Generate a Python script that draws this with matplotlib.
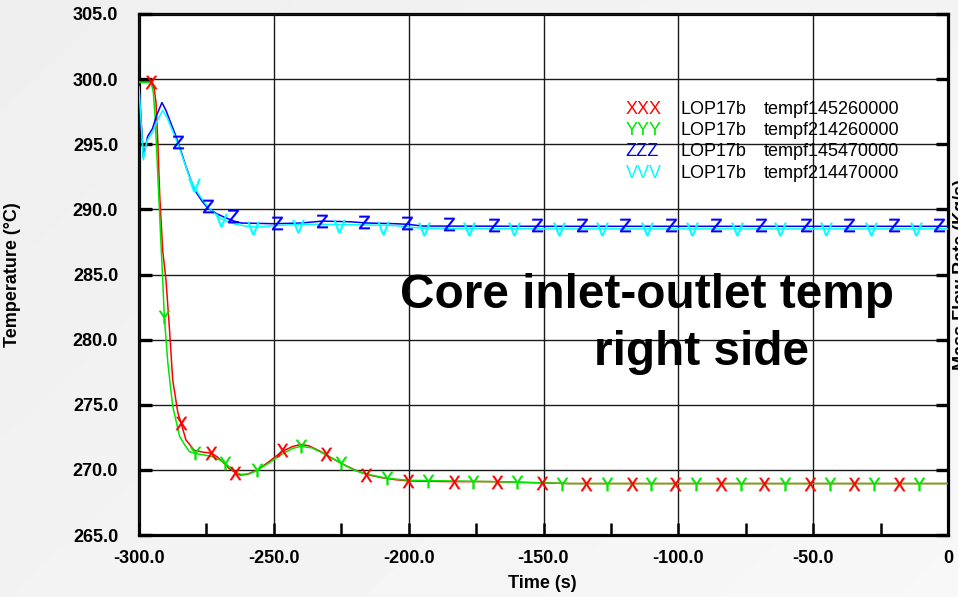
import numpy as np
import matplotlib
matplotlib.use("Agg")
import matplotlib.pyplot as plt
from matplotlib.ticker import MultipleLocator, FormatStrFormatter

plt.rcParams['font.family'] = ['Liberation Sans', 'DejaVu Sans']

# ---------------- data ----------------
red_t = [-300, -295.5, -294.3, -293.7, -293, -292.3, -291.2, -290, -288.7, -287.5, -285.6, -284.4,
         -282.6, -279.5, -276, -273.3, -271, -268.9, -266.5, -264.3, -262.5, -260, -256, -252, -247,
         -243, -240, -237, -233, -230.6, -225, -220, -215.7, -210, -205, -200, -185, -170, -160,
         -150, -140, 0]
red_v = [299.8, 299.8, 299.2, 298.2, 295.0, 291.0, 286.8, 284.6, 280.8, 276.9, 274.4, 273.6,
         272.3, 271.5, 271.35, 271.3, 271.0, 270.6, 270.1, 269.8, 269.6, 269.65, 270.0, 270.6, 271.4,
         271.8, 271.95, 271.85, 271.45, 271.15, 270.5, 270.0, 269.65, 269.4, 269.25, 269.15, 269.1,
         269.1, 269.05, 269.0, 268.95, 268.95]

green_t = [-300, -295.5, -294.7, -294, -293, -292, -291.2, -290.6, -289.3, -287.5, -285, -283,
           -281.3, -279, -276, -272.6, -270, -268, -266, -264, -262, -259, -256.3, -252, -247, -243,
           -240, -236, -231, -225, -220, -215, -208, -200, -185, -170, -160, -150, -140, 0]
green_v = [299.75, 299.75, 299.0, 297.0, 292.5, 288.0, 284.6, 281.7, 278.2, 274.9, 272.6, 271.9,
           271.4, 271.25, 271.15, 271.0, 270.75, 270.5, 270.15, 269.8, 269.65, 269.7, 269.95, 270.5,
           271.2, 271.65, 271.8, 271.7, 271.2, 270.5, 269.95, 269.65, 269.35, 269.2, 269.15, 269.1,
           269.05, 269.0, 268.95, 268.95]

blue_t = [-300, -298.4, -296.8, -295, -293.5, -291.5, -290, -288.7, -287, -285.6, -284, -282.6,
          -280.5, -278.8, -276.5, -274.5, -271.5, -268.9, -266, -264, -262, -250, -240, -232, -222,
          -215, -205, -200, -195, -150, -100, -50, 0]
blue_v = [299.6, 294.0, 295.6, 296.2, 297.2, 298.2, 297.6, 296.9, 296.0, 295.2, 294.2, 293.3,
          292.1, 291.3, 290.6, 290.1, 289.7, 289.45, 289.2, 289.05, 288.95, 288.9, 288.95, 289.1,
          289.05, 288.95, 288.9, 288.85, 288.72, 288.7, 288.7, 288.7, 288.7]

cyan_t = [-300, -298.4, -297, -295, -293, -291.2, -289.5, -287.5, -285.5, -283.5, -281.5, -279.5,
          -277, -274.5, -272, -269.6, -266.5, -264, -260, -256, -250, -240, -230, -215, -205, -195,
          -150, -100, -50, 0]
cyan_v = [299.4, 293.8, 295.3, 295.9, 296.9, 297.6, 297.0, 296.0, 295.0, 293.8, 292.6, 291.7,
          290.9, 290.2, 289.7, 289.3, 289.0, 288.85, 288.7, 288.65, 288.75, 288.85, 288.85, 288.8,
          288.75, 288.55, 288.5, 288.5, 288.5, 288.5]

# symbol (marker letter) positions
red_mk_t = [-295.5, -284.4, -273.3, -264.3, -247, -230.6, -215.7, -200.3, -183.3, -167.4, -150.4,
            -134.4, -117.3, -101.4, -84.3, -68.4, -51.3, -35.0, -18.3]
red_mk_v = [299.8, 273.6, 271.3, 269.75, 271.5, 271.2, 269.6, 269.15, 269.1, 269.1, 269.0,
            268.95, 268.95, 268.95, 268.95, 268.95, 268.95, 268.95, 268.95]
green_mk_t = [-290.6, -279.1, -268.0, -256.3, -240.0, -225.0, -208.0, -192.7, -176.0, -159.7,
              -143.0, -126.6, -110.0, -93.6, -76.9, -60.6, -43.9, -27.6, -10.9]
green_mk_v = [281.7, 271.3, 270.5, 270.0, 271.8, 270.5, 269.35, 269.15, 269.1, 269.05, 268.95,
              268.95, 268.95, 268.95, 268.95, 268.95, 268.95, 268.95, 268.95]
blue_mk_t = [-285.6, -274.5, -265.2, -248.9, -232.2, -216.7, -200.6, -185.2, -168.5, -152.4,
             -135.7, -119.6, -102.9, -86.2, -69.5, -52.8, -36.7, -20.0, -3.3]
blue_mk_v = [295.15, 290.25, 289.5, 288.95, 289.1, 289.0, 288.95, 288.85, 288.8, 288.8, 288.8,
             288.8, 288.8, 288.8, 288.8, 288.8, 288.8, 288.8, 288.8]
cyan_mk_t = [-279.5, -269.6, -257.6, -241.2, -226.0, -209.5, -194.2, -177.8, -161.1, -144.4,
             -128.2, -111.5, -94.8, -78.1, -62.2, -45.4, -28.7, -12.0]
cyan_mk_v = [291.9, 289.2, 288.6, 288.72, 288.72, 288.6, 288.5, 288.5, 288.5, 288.5, 288.5,
             288.5, 288.5, 288.5, 288.5, 288.5, 288.5, 288.5]

series_letters = ["X", "Y", "Z", "V"]
series_colors = ["#ff0000", "#00e600", "#0000ff", "#00ffff"]
legend_runs = ["LOP17b", "LOP17b", "LOP17b", "LOP17b"]
legend_vars = ["tempf145260000", "tempf214260000", "tempf145470000", "tempf214470000"]

x_ticks = [-300, -250, -200, -150, -100, -50, 0]
x_tick_labels = ["-300.0", "-250.0", "-200.0", "-150.0", "-100.0", "-50.0", "0"]
y_ticks = [265, 270, 275, 280, 285, 290, 295, 300, 305]

# ---------------- figure ----------------
W, H = 958, 597
fig = plt.figure(figsize=(W / 100, H / 100), dpi=100)
fig.patch.set_facecolor("#f0f0f0")

# light gray gradient background
bg = fig.add_axes([0, 0, 1, 1], zorder=-10)
gx = np.linspace(0, 1, 200)
gy = np.linspace(0, 1, 120)
GX, GY = np.meshgrid(gx, gy)
grad = 0.935 + 0.035 * (0.6 * GX + 0.4 * GY)
bg.imshow(grad, cmap="gray", vmin=0, vmax=1, aspect="auto", extent=[0, 1, 0, 1],
          interpolation="bilinear")
bg.axis("off")

L, R, T, B = 139, 948, 14, 535
ax = fig.add_axes([L / W, (H - B) / H, (R - L) / W, (B - T) / H])
ax.set_facecolor("white")

lines = [(red_t, red_v), (green_t, green_v), (blue_t, blue_v), (cyan_t, cyan_v)]
marks = [(red_mk_t, red_mk_v), (green_mk_t, green_mk_v), (blue_mk_t, blue_mk_v),
         (cyan_mk_t, cyan_mk_v)]
for (t, v), (mt, mv), c, letter in zip(lines, marks, series_colors, series_letters):
    ax.plot(t, v, color=c, lw=1.1, zorder=3)
    ax.plot(mt, mv, ls="none", marker=r"$\mathsf{%s}$" % letter, ms=9.5, mew=0.3,
            color=c, zorder=4)

ax.set_xlim(-300, 0)
ax.set_ylim(265, 305)
ax.set_xticks(x_ticks)
ax.set_xticklabels(x_tick_labels)
ax.set_yticks(y_ticks)
ax.xaxis.set_minor_locator(MultipleLocator(25))
ax.yaxis.set_major_formatter(FormatStrFormatter("%.1f"))
ax.grid(True, which="major", color="#1a1a1a", lw=1.0, zorder=1)
ax.tick_params(axis="x", which="both", direction="in", length=9, width=1.8, pad=11,
               labelsize=13, top=False, bottom=True)
ax.tick_params(axis="y", which="major", direction="in", length=9, width=2.4, pad=15,
               labelsize=13, left=True, right=True)
for lab in ax.get_xticklabels() + ax.get_yticklabels():
    lab.set_fontweight("bold")
for s in ax.spines.values():
    s.set_linewidth(2.3)
    s.set_color("black")
ax.set_axisbelow(False)

# labels
fig.text(542 / W, 1 - 583 / H, "Time (s)", ha="center", va="center", fontsize=13,
         fontweight="bold")
fig.text(13 / W, 1 - 274.5 / H, "Temperature (°C)", ha="center", va="center",
         rotation=90, fontsize=13, fontweight="bold")
fig.text(952.5 / W, 1 - 274.5 / H, "Mass Flow Rate (Kg/s)", ha="left", va="center",
         rotation=90, fontsize=13, fontweight="bold")

# annotation title inside the plot
ax.text(-203.1, 282.46, "Core inlet-outlet temp", ha="left", va="baseline", fontsize=34.4,
        fontweight="bold", zorder=5)
ax.text(-131.1, 278.08, "right side", ha="left", va="baseline", fontsize=34.4,
        fontweight="bold", zorder=5)

# legend as text rows
leg_y = [297.35, 295.73, 294.12, 292.42]
for yv, letter, c, run, var in zip(leg_y, series_letters, series_colors, legend_runs,
                                   legend_vars):
    ax.text(-119.6, yv, letter * 3, color=c, fontsize=13, ha="left", va="baseline", zorder=5)
    ax.text(-99.2, yv, run, color="black", fontsize=13, ha="left", va="baseline", zorder=5)
    ax.text(-68.4, yv, var, color="black", fontsize=13, ha="left", va="baseline", zorder=5)

fig.savefig("out.png", dpi=100, facecolor=fig.get_facecolor())
